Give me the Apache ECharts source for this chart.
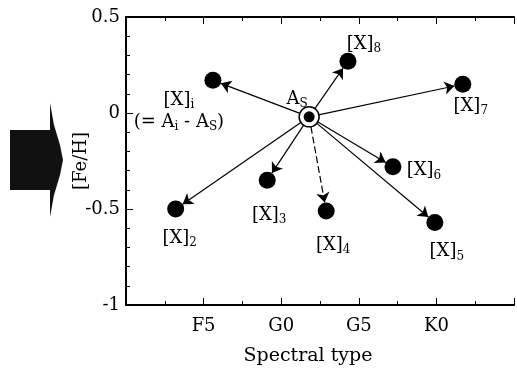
<!DOCTYPE html>
<html lang="en">
    <head>
        <meta charset="UTF-8">
        <title>[Fe/H] vs spectral type</title>
        <script src="https://cdn.jsdelivr.net/npm/echarts@6/dist/echarts.min.js"></script>
        <style>
            html, body { margin: 0; padding: 0; background: #fff; }
            #chart { width: 517px; height: 372px; }
        </style>
    </head>

    <body>
        <div id="chart"></div>

        <script>
            // data (x: spectral subtype, F0 = 0, G0 = 10, K0 = 20)
            var names = ['AS', 'X1', 'X2', 'X3', 'X4', 'X5', 'X6', 'X7', 'X8'];
            var subs = ['S', 'i', '2', '3', '4', '5', '6', '7', '8'];
            var spectral = [11.8, 5.6, 3.2, 9.1, 12.9, 19.9, 17.2, 21.7, 14.3];
            var feh = [-0.02, 0.17, -0.50, -0.35, -0.51, -0.57, -0.28, 0.15, 0.27];
            var xTicks = [5, 10, 15, 20];
            var xTickLabels = ['F5', 'G0', 'G5', 'K0'];

            var chart = echarts.init(document.getElementById('chart'), null, { renderer: 'canvas' });

            var FONT = 'DejaVu Serif';
            var rich = {
                m: { fontFamily: FONT, fontSize: 18, color: '#000', lineHeight: 22, verticalAlign: 'middle' },
                s: { fontFamily: FONT, fontSize: 12, color: '#000', lineHeight: 22, verticalAlign: 'bottom' }
            };

            // label offsets from each point, in pixels
            var labelOffset = {
                AS: [-12, -18], X1: [-34, 31], X2: [4, 29], X3: [2, 35], X4: [7, 34],
                X5: [12, 29], X6: [31, 4], X7: [8, 22], X8: [16, -17]
            };

            function labelText(i) {
                if (names[i] === 'AS') return '{m|A}{s|S}';
                if (names[i] === 'X1') return '{m|[X]}{s|i}\n{m|(= A}{s|i}{m| - A}{s|S}{m|)}';
                return '{m|[X]}{s|' + subs[i] + '}';
            }

            var nodes = names.map(function (n, i) {
                return {
                    name: n,
                    value: [spectral[i], feh[i]],
                    symbolSize: n === 'AS' ? 20 : 17,
                    label: {
                        show: true, position: 'inside', offset: labelOffset[n],
                        formatter: labelText(i), rich: rich, align: 'center'
                    }
                };
            });

            var links = names.slice(1).map(function (n) {
                var l = { source: 'AS', target: n };
                if (n === 'X4') l.lineStyle = { type: [7, 3] };
                return l;
            });

            var axisFont = { fontFamily: FONT, fontSize: 18, color: '#000' };

            var option = {
                backgroundColor: '#fff',
                animation: false,
                grid: { left: 126, top: 17, width: 395, height: 288 },
                xAxis: [{
                    type: 'value', min: 0, max: 25, interval: 5,
                    name: 'Spectral type', nameLocation: 'middle', nameGap: 42,
                    nameTextStyle: { fontFamily: FONT, fontSize: 19, color: '#000', padding: [0, 24, 0, 0] },
                    axisLine: { onZero: false, lineStyle: { color: '#000', width: 2 } },
                    axisTick: { inside: true, length: 7, lineStyle: { color: '#000' } },
                    minorTick: { show: true, splitNumber: 2, length: 4, lineStyle: { color: '#000' } },
                    splitLine: { show: false },
                    axisLabel: Object.assign({
                        margin: 12,
                        formatter: function (v) {
                            var k = xTicks.indexOf(v);
                            return k < 0 ? '' : xTickLabels[k];
                        }
                    }, axisFont)
                }, {
                    type: 'value', position: 'top', min: 0, max: 25, interval: 5,
                    axisLine: { onZero: false, lineStyle: { color: '#000', width: 2 } },
                    axisTick: { inside: true, length: 7, lineStyle: { color: '#000' } },
                    minorTick: { show: true, splitNumber: 2, length: 4, lineStyle: { color: '#000' } },
                    splitLine: { show: false },
                    axisLabel: { show: false }
                }],
                yAxis: {
                    type: 'value', min: -1, max: 0.5, interval: 0.5,
                    name: '[Fe/H]', nameLocation: 'middle', nameGap: 36, nameMoveOverlap: false,
                    nameTextStyle: { fontFamily: FONT, fontSize: 18, color: '#000' },
                    axisLine: { onZero: false, lineStyle: { color: '#000', width: 2 } },
                    axisTick: { inside: true, length: 7, lineStyle: { color: '#000' } },
                    minorTick: { show: true, splitNumber: 5, length: 4, lineStyle: { color: '#000' } },
                    splitLine: { show: false },
                    axisLabel: Object.assign({ margin: 6 }, axisFont)
                },
                graphic: [
                    { type: 'rect', shape: { x: 10, y: 130, width: 42, height: 60 }, style: { fill: '#111' } },
                    { type: 'polygon', shape: { points: [[50, 103], [54, 125], [60, 145], [63, 160], [60, 175], [54, 195], [50, 217]] }, style: { fill: '#111' } }
                ],
                series: [{
                    type: 'graph',
                    coordinateSystem: 'cartesian2d',
                    xAxisIndex: 0, yAxisIndex: 0,
                    layout: 'none',
                    symbol: 'circle',
                    itemStyle: { color: '#000' },
                    edgeSymbol: ['none', 'arrow'],
                    edgeSymbolSize: [0, 10],
                    lineStyle: { color: '#000', width: 1.2, opacity: 1 },
                    emphasis: { disabled: true },
                    data: nodes,
                    links: links,
                    z: 2
                }, {
                    // ring round A_S
                    type: 'scatter',
                    symbol: 'circle',
                    symbolSize: 20,
                    itemStyle: { color: '#fff', borderColor: '#000', borderWidth: 1.5, opacity: 1 },
                    data: [[spectral[0], feh[0]]],
                    silent: true,
                    z: 3
                }, {
                    type: 'scatter',
                    symbol: 'circle',
                    symbolSize: 11,
                    itemStyle: { color: '#000', opacity: 1 },
                    data: [[spectral[0], feh[0]]],
                    silent: true,
                    z: 4
                }]
            };

            chart.setOption(option);
        </script>
    </body>

</html>
